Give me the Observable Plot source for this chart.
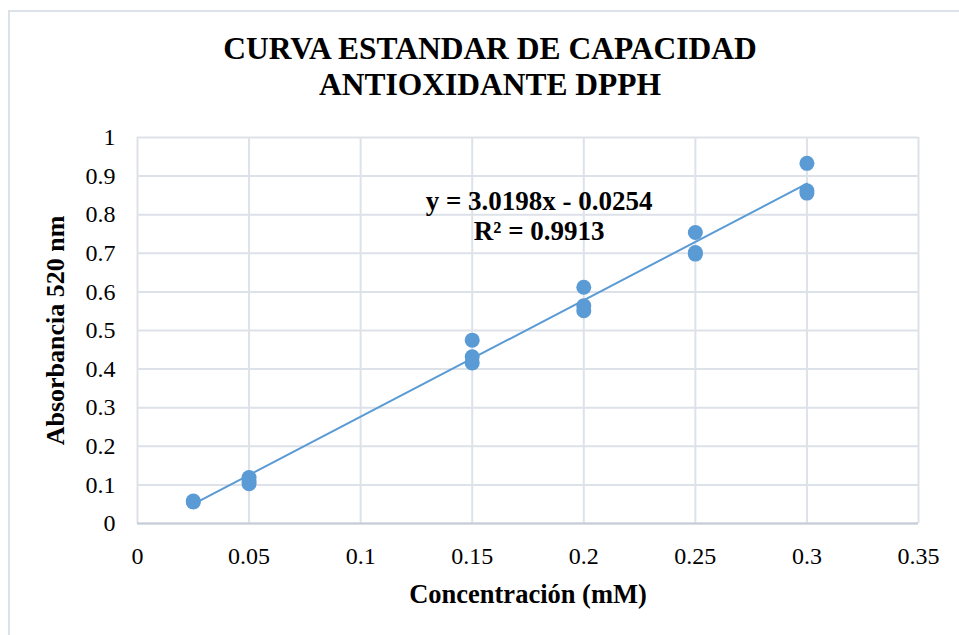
<!DOCTYPE html>
<html><head><meta charset="utf-8">
<script src="https://cdn.jsdelivr.net/npm/d3@7"></script>
<script src="https://cdn.jsdelivr.net/npm/@observablehq/plot@0.6"></script>
<style>
html,body{margin:0;padding:0;background:#fff;overflow:hidden;}
#wrap{position:relative;width:959px;height:635px;overflow:hidden;}
#frame{position:absolute;left:8px;top:10px;width:1000px;height:700px;border:2px solid #dde1e8;box-sizing:border-box;}
#title{position:absolute;left:0;top:31px;width:980px;text-align:center;font-family:"Liberation Serif",serif;font-weight:bold;font-size:31.5px;line-height:36px;color:#000;}
#chart{position:absolute;left:0;top:0;}
</style></head><body>
<div id="wrap"><div id="frame"></div><div id="chart"></div><div id="title">CURVA ESTANDAR DE CAPACIDAD<br>ANTIOXIDANTE DPPH</div></div>
<script>
const concentration = [0.025, 0.025, 0.05, 0.05, 0.05, 0.15, 0.15, 0.15, 0.2, 0.2, 0.2, 0.25, 0.25, 0.25, 0.3, 0.3, 0.3];
const absorbance    = [0.056, 0.058, 0.119, 0.110, 0.103, 0.475, 0.432, 0.416, 0.612, 0.564, 0.551, 0.754, 0.698, 0.702, 0.933, 0.856, 0.862];
const xTicks = [0, 0.05, 0.1, 0.15, 0.2, 0.25, 0.3, 0.35];
const yTicks = [0, 0.1, 0.2, 0.3, 0.4, 0.5, 0.6, 0.7, 0.8, 0.9, 1];
const slope = 3.0198, intercept = -0.0254, r2 = 0.9913;
const xLabel = "Concentración (mM)";
const yLabel = "Absorbancia 520 nm";

const points = concentration.map((c, i) => ({c, a: absorbance[i]}));
const trend = d3.extent(concentration).map(c => ({c, a: slope * c + intercept}));
const eqText = `y = ${slope}x - ${Math.abs(intercept)}\nR² = ${r2}`;

const blue = "#5b9bd5";
const grid = "#dde1e8";

const chart = Plot.plot({
  width: 959, height: 635,
  marginTop: 137, marginBottom: 112, marginLeft: 137, marginRight: 41,
  style: {background: "transparent", fontFamily: "Liberation Serif, serif", fontSize: "24px", color: "#000", overflow: "visible"},
  x: {domain: [0, 0.35]},
  y: {domain: [0, 1]},
  marks: [
    Plot.gridX(xTicks, {stroke: grid, strokeOpacity: 1, strokeWidth: 2}),
    Plot.gridY(yTicks, {stroke: grid, strokeOpacity: 1, strokeWidth: 2}),
    Plot.ruleY([0], {stroke: "#c5ccd8", strokeWidth: 2}),
    Plot.axisX(xTicks, {tickSize: 0, tickPadding: 23, label: null, tickFormat: d => String(d), fontSize: 24}),
    Plot.axisY(yTicks, {tickSize: 0, tickPadding: 22, label: null, tickFormat: d => String(d), fontSize: 24}),
    Plot.line(trend, {x: "c", y: "a", stroke: blue, strokeWidth: 2}),
    Plot.dot(points, {x: "c", y: "a", r: 7.5, fill: blue, stroke: "none"}),
    Plot.text([eqText], {x: 0.18, y: 0.7337, text: d => d, lineAnchor: "bottom", lineHeight: 1.12, fontSize: 27, fontWeight: "bold", fill: "#000"}),
    Plot.text([xLabel], {frameAnchor: "bottom", dy: 79, text: d => d, lineAnchor: "bottom", fontSize: 26.5, fontWeight: "bold", fill: "#000"}),
    Plot.text([yLabel], {frameAnchor: "left", dx: -82, text: d => d, rotate: -90, textAnchor: "middle", lineAnchor: "middle", fontSize: 26, fontWeight: "bold", fill: "#000"})
  ]
});
document.getElementById("chart").appendChild(chart);
</script>
</body></html>
